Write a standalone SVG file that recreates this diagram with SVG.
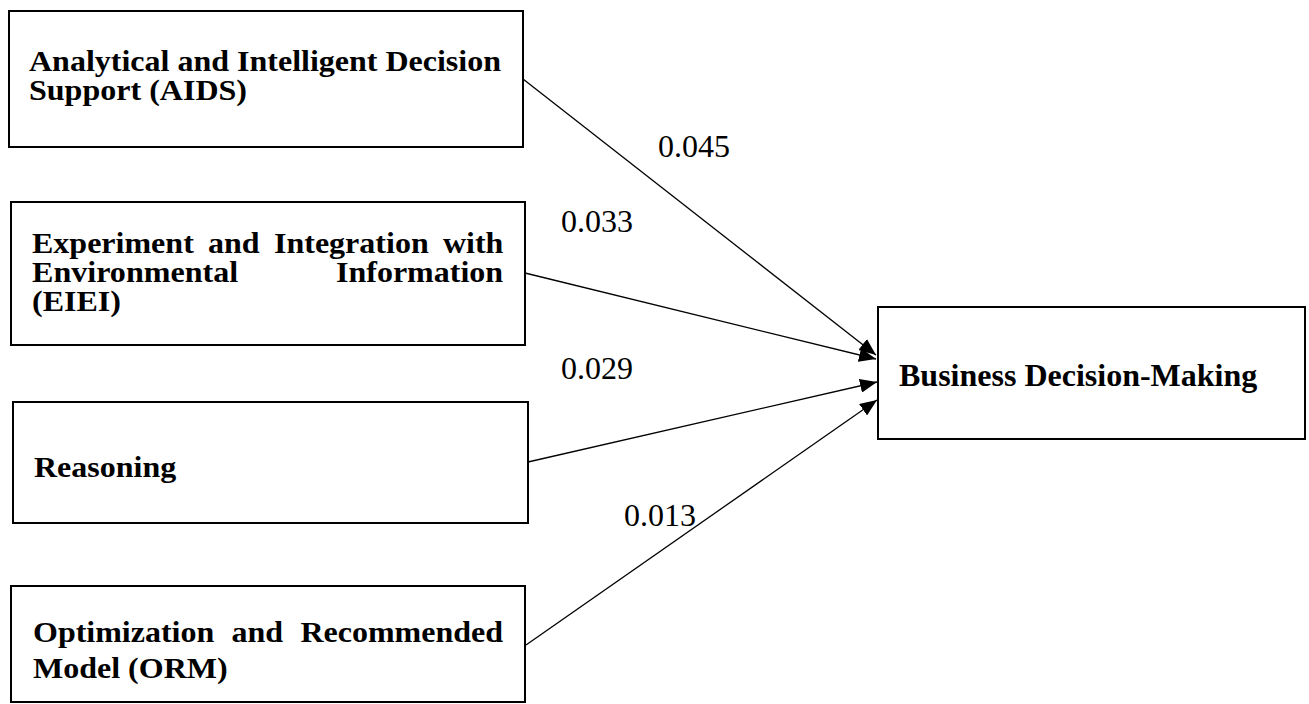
<svg xmlns="http://www.w3.org/2000/svg" width="1309" height="704" viewBox="0 0 1309 704">
  <style>
    .box { fill: #ffffff; stroke: #000000; stroke-width: 2; }
    .lbl { font-family: "Liberation Serif", "Times New Roman", serif; font-size: 29px; font-weight: bold; fill: #000000; }
    .big { font-family: "Liberation Serif", "Times New Roman", serif; font-size: 32px; font-weight: bold; fill: #000000; }
    .num { font-family: "Liberation Serif", "Times New Roman", serif; font-size: 32px; fill: #000000; }
    .edge { stroke: #000000; stroke-width: 1.3; fill: none; marker-end: url(#arrow); }
  </style>
  <defs>
    <marker id="arrow" markerUnits="userSpaceOnUse" markerWidth="18" markerHeight="14" refX="17" refY="7" orient="auto">
      <path d="M0,0 L17,7 L0,14 z" fill="#000000"/>
    </marker>
  </defs>
  <rect width="1309" height="704" fill="#ffffff"/>

  <!-- Justified box labels: each word is placed and stretched to its column -->
  <g id="node-aids">
    <rect class="box" x="9" y="11" width="514" height="136"/>
    <text class="lbl" x="29" y="71" textLength="472" lengthAdjust="spacingAndGlyphs">Analytical and Intelligent Decision</text>
    <text class="lbl" x="29" y="100" textLength="218" lengthAdjust="spacingAndGlyphs">Support (AIDS)</text>
  </g>

  <g id="node-eiei">
    <rect class="box" x="11" y="202" width="514" height="143"/>
    <text class="lbl" x="32" y="253" textLength="161.8" lengthAdjust="spacingAndGlyphs">Experiment</text>
    <text class="lbl" x="208" y="253" textLength="51.6" lengthAdjust="spacingAndGlyphs">and</text>
    <text class="lbl" x="274" y="253" textLength="154.7" lengthAdjust="spacingAndGlyphs">Integration</text>
    <text class="lbl" x="443" y="253" textLength="60.4" lengthAdjust="spacingAndGlyphs">with</text>
    <text class="lbl" x="32" y="282" textLength="206.2" lengthAdjust="spacingAndGlyphs">Environmental</text>
    <text class="lbl" x="336" y="282" textLength="167.1" lengthAdjust="spacingAndGlyphs">Information</text>
    <text class="lbl" x="32" y="311" textLength="88.9" lengthAdjust="spacingAndGlyphs">(EIEI)</text>
  </g>

  <g id="node-reasoning">
    <rect class="box" x="13" y="402" width="515" height="121"/>
    <text class="lbl" x="34" y="477" textLength="142.2" lengthAdjust="spacingAndGlyphs">Reasoning</text>
  </g>

  <g id="node-orm">
    <rect class="box" x="11" y="586" width="514" height="116"/>
    <text class="lbl" x="33" y="642" textLength="181.3" lengthAdjust="spacingAndGlyphs">Optimization</text>
    <text class="lbl" x="231.5" y="642" textLength="51.6" lengthAdjust="spacingAndGlyphs">and</text>
    <text class="lbl" x="300.4" y="642" textLength="202.6" lengthAdjust="spacingAndGlyphs">Recommended</text>
    <text class="lbl" x="33" y="678" textLength="194.6" lengthAdjust="spacingAndGlyphs">Model (ORM)</text>
  </g>

  <g id="node-bdm">
    <rect class="box" x="878" y="307" width="427" height="132"/>
    <text class="big" x="899" y="386">Business Decision-Making</text>
  </g>

  <g id="connectors">
    <line class="edge" x1="523" y1="79" x2="876" y2="355"/>
    <line class="edge" x1="525" y1="273" x2="876" y2="359"/>
    <line class="edge" x1="528" y1="462" x2="877" y2="382"/>
    <line class="edge" x1="526" y1="645" x2="877" y2="400"/>
    <text class="num" x="658" y="157">0.045</text>
    <text class="num" x="561" y="232">0.033</text>
    <text class="num" x="561" y="379">0.029</text>
    <text class="num" x="624" y="526">0.013</text>
  </g>
</svg>
